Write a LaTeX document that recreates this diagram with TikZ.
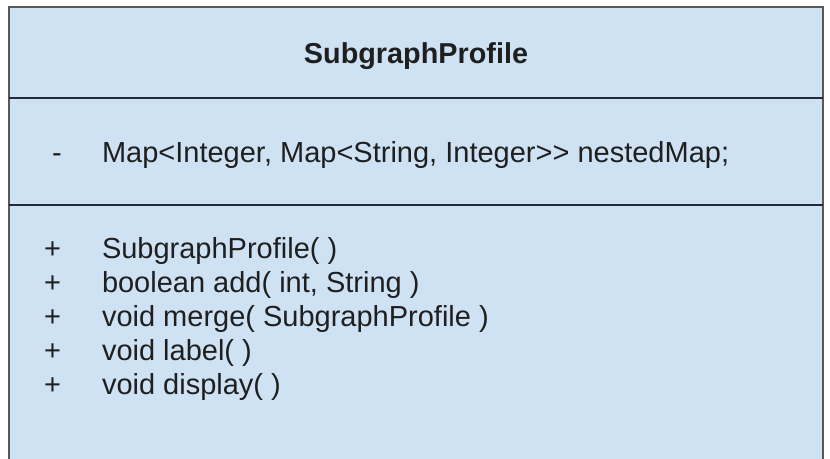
\documentclass[tikz,border=0pt]{standalone}
\usepackage{fontspec}
\setmainfont{Liberation Sans}
\definecolor{classfill}{HTML}{CFE2F3}
\definecolor{classborder}{HTML}{595959}
\definecolor{classrule}{HTML}{1E2B38}
\definecolor{classtext}{HTML}{1F1F1F}
\tikzset{
  umltext/.style={inner sep=0pt, outer sep=0pt, text=classtext,
    font=\fontsize{14.5}{17}\selectfont},
  umltitle/.style={umltext, font=\fontsize{14.4}{17}\selectfont\bfseries},
  umlentry/.style={umltext, anchor=base west},
  umlsign/.style={umltext, anchor=base},
  umlrule/.style={draw=classrule, line width=1pt},
}
\begin{document}
\begin{tikzpicture}[x=0.5pt, y=-0.5pt]
  \useasboundingbox (0,0) rectangle (830,459);
  \fill[white] (0,0) rectangle (830,459);
  \clip (0,0) rectangle (830,459);

  % class box, open at the lower edge
  \draw[fill=classfill, draw=classborder, line width=1pt] (8.5,7) rectangle (823,480);
  \coordinate (rowAl) at (8.5,98);
  \coordinate (rowAr) at (823,98);
  \coordinate (rowBl) at (8.5,205);
  \coordinate (rowBr) at (823,205);
  \draw[umlrule] (rowAl) -- (rowAr);
  \draw[umlrule] (rowBl) -- (rowBr);

  % class name
  \node[umltitle, anchor=base] (name) at (416,64) {SubgraphProfile};

  % attribute (the empty group keeps >> from turning into a guillemet)
  \node[umlsign] (attrsign) at (57,163) {-};
  \node[umlentry] (attr) at (102,163) {Map<Integer, Map<String, Integer>{}> nestedMap;};

  % operations
  \node[umlsign] (opsignA) at (52.5,259) {+};
  \node[umlentry] (opA) at (102,259) {SubgraphProfile( )};
  \node[umlsign] (opsignB) at (52.5,293) {+};
  \node[umlentry] (opB) at (102,293) {boolean add( int, String )};
  \node[umlsign] (opsignC) at (52.5,327) {+};
  \node[umlentry] (opC) at (102,327) {void merge( SubgraphProfile )};
  \node[umlsign] (opsignD) at (52.5,361) {+};
  \node[umlentry] (opD) at (102,361) {void label( )};
  \node[umlsign] (opsignE) at (52.5,395) {+};
  \node[umlentry] (opE) at (102,395) {void display( )};
\end{tikzpicture}
\end{document}
